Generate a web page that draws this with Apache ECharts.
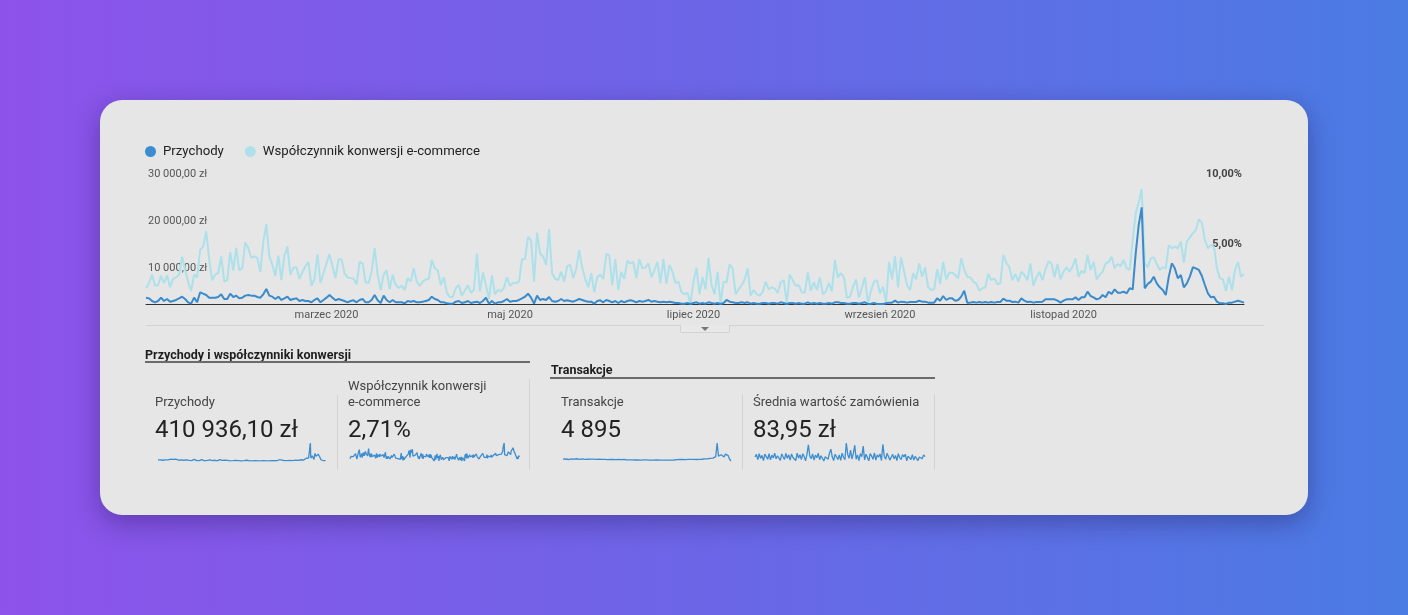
<!DOCTYPE html>
<html lang="pl">
<head>
<meta charset="utf-8">
<title>Przychody i współczynniki konwersji</title>
<script src="https://cdn.jsdelivr.net/npm/echarts@6/dist/echarts.min.js"></script>
<style>
  html, body { margin: 0; padding: 0; }
  body {
    width: 1408px; height: 615px; overflow: hidden; position: relative;
    background: linear-gradient(90deg, #8d52ea 0%, #6c66e7 50%, #4a7be3 100%);
    font-family: Roboto, 'Noto Sans', sans-serif;
  }
  .card {
    position: absolute; left: 100px; top: 100px; width: 1208px; height: 415px;
    border-radius: 22px; background: #e6e6e6;
    box-shadow: 0 8px 26px rgba(25, 15, 70, 0.35);
  }
  #chart { position: absolute; left: 0; top: 0; width: 1408px; height: 615px; z-index: 2; }
  .t { position: absolute; white-space: nowrap; z-index: 3; }
  .head { font-size: 12.5px; font-weight: bold; color: #1e1e1e; line-height: 16px; }
  .lbl { font-size: 13px; color: #444; line-height: 16px; }
  .val { font-size: 24px; color: #222; line-height: 28px; }
  .rule { position: absolute; height: 2px; background: #6b6b6b; z-index: 3; }
  .div { position: absolute; width: 1px; background: #d3d3d3; z-index: 3; }
  .sep { position: absolute; left: 146px; top: 325px; width: 1118px; height: 1px; background: #d2d2d2; z-index: 3; }
  .tab {
    position: absolute; left: 680px; top: 325px; width: 48px; height: 7px;
    border: 1px solid #d2d2d2; border-top: none; background: #e8e8e8;
    border-radius: 0 0 2px 2px; z-index: 3;
  }
  .tri {
    position: absolute; left: 701px; top: 327px; width: 0; height: 0;
    border-left: 4px solid transparent; border-right: 4px solid transparent;
    border-top: 4px solid #777; z-index: 4;
  }
</style>
</head>
<body>
<div class="card"></div>
<div class="sep"></div>
<div class="tab"></div>
<div class="tri"></div>

<div class="t head" style="left:145px; top:347px;">Przychody i współczynniki konwersji</div>
<div class="rule" style="left:145px; top:361px; width:385px;"></div>
<div class="t head" style="left:551px; top:362px;">Transakcje</div>
<div class="rule" style="left:550px; top:377px; width:385px;"></div>

<div class="div" style="left:337px; top:395px; height:75px;"></div>
<div class="div" style="left:529px; top:379px; height:91px;"></div>
<div class="div" style="left:742px; top:394px; height:76px;"></div>
<div class="div" style="left:934px; top:394px; height:76px;"></div>

<div class="t lbl" style="left:155px; top:394px;">Przychody</div>
<div class="t val" style="left:155px; top:415px;">410 936,10 zł</div>
<div class="t lbl" style="left:348px; top:378px;">Współczynnik konwersji<br>e-commerce</div>
<div class="t val" style="left:348px; top:415px;">2,71%</div>
<div class="t lbl" style="left:561px; top:394px;">Transakcje</div>
<div class="t val" style="left:561px; top:415px;">4 895</div>
<div class="t lbl" style="left:753px; top:394px;">Średnia wartość zamówienia</div>
<div class="t val" style="left:753px; top:415px;">83,95 zł</div>

<div id="chart"></div>

<script>
// dzienne wartosci 2020 (366 dni)
var przychody = [
  // sty - kwi
  1360, 1210, 640, 360, 640, 1360, 640, 1070, 500, 640,
  860, 1210, 1570, 1070, 360, 70, 1360, 360, 2500, 2210,
  1930, 1360, 1360, 1360, 1500, 2070, 1070, 1070, 2210, 1500,
  1790, 1210, 1360, 1790, 1930, 1790, 1790, 1500, 1360, 2070,
  3210, 1790, 1570, 1070, 1570, 860, 1210, 1570, 860, 1070,
  1210, 640, 860, 640, 640, 360, 860, 1210, 360, 860,
  1360, 1930, 1360, 790, 1070, 860, 640, 360, 640, 790,
  360, 860, 1070, 360, 360, 860, 1930, 790, 210, 1790,
  860, 360, 860, 360, 360, 360, 140, 640, 500, 640,
  360, 360, 500, 640, 860, 1570, 1070, 860, 360, 360,
  140, 70, 70, 500, 640, 210, 360, 640, 210, 360,
  500, 210, 640, 1360, 70, 640, 70, 360, 360, 640,
  1070, 500, 640,
  // maj - sie
  640, 860, 1210, 1570, 2210, 1360, 70, 1790, 860, 1070,
  860, 1500, 640, 500, 640, 1070, 640, 790, 640, 500,
  790, 1070, 860, 640, 500, 500, 70, 640, 790, 360,
  860, 640, 360, 640, 210, 640, 360, 640, 790, 640,
  360, 640, 500, 640, 860, 500, 640, 500, 360, 500,
  360, 500, 360, 210, 210, 70, 70, 210, 0, 210,
  360, 70, 210, 70, 360, 210, 70, 210, 0, 210,
  860, 500, 360, 210, 210, 360, 210, 360, 70, 210,
  70, 70, 210, 210, 70, 210, 210, 70, 360, 210,
  0, 210, 210, 70, 210, 70, 70, 360, 70, 210,
  70, 210, 70, 70, 210, 70, 360, 360, 210, 210,
  70, 70, 210, 210, 70, 210, 360, 0, 70, 210,
  // wrz - gru
  0, 0, 0, 140, 290, 290, 710, 290, 500, 430,
  290, 430, 430, 430, 710, 500, 500, 290, 290, 290,
  1210, 710, 1710, 860, 1210, 1210, 710, 860, 1570, 2860,
  290, 290, 430, 290, 430, 290, 430, 290, 430, 290,
  430, 430, 1140, 710, 710, 430, 500, 290, 1210, 710,
  430, 500, 290, 430, 430, 500, 1000, 1000, 1000, 1000,
  710, 290, 710, 1000, 1000, 1000, 1430, 860, 1430, 1430,
  2640, 1710, 1430, 1000, 1210, 1930, 1430, 2640, 2140, 3140,
  2430, 2430, 2640, 2290, 3360, 3140, 10860, 16930, 20710, 3360,
  4290, 4790, 5860, 4430, 3570, 3000, 1930, 5860, 8710, 7640,
  5500, 6210, 3570, 4430, 5860, 7860, 7640, 7290, 6000, 4070,
  2290, 1430, 1570, 500, 140, 140, 0, 290, 290, 500,
  710, 500, 290
];

var konwersja = [
  // sty - kwi
  1.12, 1.48, 2.1, 1.3, 1.35, 2.0, 1.5, 2.05, 1.2, 1.8,
  1.9, 2.1, 3.38, 2.43, 1.6, 0.93, 2.1, 1.9, 3.86, 4.1,
  5.2, 3.2, 1.7, 2.1, 2.2, 3.4, 1.6, 1.7, 3.7, 2.4,
  4.0, 2.4, 2.55, 4.4, 4.0, 3.3, 3.4, 3.3, 2.3, 4.45,
  5.7, 3.4, 2.8, 2.0, 3.45, 1.7, 3.45, 4.1, 2.1, 2.6,
  2.6, 1.8, 2.3, 2.7, 3.0, 1.3, 1.8, 3.55, 1.5, 2.2,
  2.9, 3.55, 2.7, 1.85, 3.2, 3.2, 2.2, 1.9, 1.85, 1.8,
  1.4, 3.0, 2.9, 1.55, 1.5, 2.3, 4.0, 2.1, 1.0, 2.1,
  2.4, 1.05, 2.1, 1.35, 1.15, 1.3, 1.0, 1.85, 1.6, 2.55,
  1.6, 1.3, 1.6, 1.75, 1.8, 3.15, 2.55, 2.4, 1.35, 1.9,
  0.8, 0.5, 0.5, 1.15, 1.35, 0.6, 0.95, 1.35, 0.8, 1.0,
  3.6, 0.9, 2.25, 1.35, 0.35, 2.05, 0.7, 1.0, 0.9, 1.15,
  1.9, 1.3, 1.5,
  // maj - sie
  1.5, 1.6, 3.2, 3.2, 4.8, 4.55, 1.6, 5.1, 3.6, 3.4,
  2.8, 5.35, 2.2, 1.8, 1.7, 2.3, 1.6, 2.7, 2.8, 1.85,
  2.5, 3.85, 2.6, 1.8, 1.2, 2.2, 0.85, 1.9, 2.1, 1.8,
  3.55, 3.5, 1.35, 3.2, 1.0, 2.3, 1.8, 3.1, 2.9, 3.0,
  1.85, 3.2, 2.55, 2.6, 2.9, 1.9, 2.4, 3.0, 1.5, 3.2,
  1.45, 2.8, 2.3, 1.5, 1.6, 0.85, 0.7, 0.8, 0.05, 1.6,
  2.6, 0.7, 1.9, 1.05, 3.3, 1.35, 0.7, 2.3, 0.05, 1.6,
  1.55, 2.85, 2.55, 0.7, 1.05, 1.35, 1.75, 2.55, 0.6, 1.0,
  0.7, 0.6, 0.85, 1.6, 1.05, 1.2, 1.1, 0.8, 1.55, 1.7,
  0.1, 2.1, 1.7, 1.3, 1.35, 0.85, 0.8, 2.25, 0.95, 1.55,
  1.0, 1.9, 0.7, 0.9, 1.5, 0.9, 3.15, 1.9, 2.2, 1.9,
  0.45, 0.5, 1.2, 1.75, 0.45, 1.2, 1.9, 0.05, 0.95, 1.6,
  // wrz - gru
  1.7, 0.76, 1.24, 0.1, 3.0, 1.76, 3.43, 1.19, 3.33, 2.3,
  1.36, 1.0, 2.2, 1.76, 2.9, 1.95, 2.62, 1.19, 1.0, 1.05,
  2.48, 1.43, 3.0, 1.76, 2.24, 2.24, 2.07, 1.83, 3.26, 2.43,
  1.95, 1.9, 1.6, 1.48, 0.95, 1.12, 1.19, 2.14, 1.7, 1.83,
  1.43, 1.48, 3.5, 2.95, 2.62, 1.7, 2.14, 1.6, 2.3, 2.07,
  1.7, 2.9, 1.29, 1.9, 2.3, 1.7, 2.48, 3.05, 2.9, 1.9,
  2.86, 1.76, 2.3, 2.62, 2.3, 2.67, 3.26, 1.95, 2.38, 2.2,
  3.5, 2.43, 3.0, 1.76, 2.07, 2.3, 2.9, 3.0, 3.38, 2.55,
  2.86, 2.71, 3.14, 2.55, 2.43, 4.57, 6.5, 7.24, 8.19, 2.9,
  2.62, 3.26, 3.33, 2.86, 2.43, 2.62, 2.55, 4.21, 3.98, 4.1,
  3.98, 4.45, 2.95, 4.45, 4.76, 5.05, 5.29, 6.05, 5.81, 4.57,
  3.98, 4.21, 4.1, 2.55, 1.83, 1.76, 0.95, 1.95, 1.0, 2.43,
  3.0, 1.95, 2.14
];

// wykresy miniatur (okresy 3-dniowe)
var transakcje = [
  62, 58, 66, 60, 55, 63, 70, 59, 64, 68, 72, 66, 60, 74, 69, 63, 58, 65, 61, 57,
  64, 70, 62, 55, 59, 66, 61, 54, 58, 63, 60, 56, 52, 61, 57, 50, 55, 59, 53, 51,
  56, 60, 52, 49, 55, 50, 47, 53, 48, 51, 46, 50, 44, 48, 45, 47, 43, 49, 45, 42,
  46, 44, 41, 45, 43, 40, 44, 42, 46, 41, 43, 45, 40, 44, 42, 47, 41, 45, 43, 46,
  44, 48, 52, 47, 55, 50, 58, 49, 53, 51, 56, 54, 59, 52, 57, 60, 55, 62, 58, 64,
  61, 66, 70, 74, 68, 78, 82, 90, 86, 95, 120, 420, 130, 105, 160, 150, 110, 175, 190, 140,
  60, 22
];
var sredniaWartosc = [
  86, 98, 74, 101, 80, 94, 70, 99, 88, 76, 102, 73, 95, 82, 104, 78, 92, 99, 71, 100,
  87, 75, 103, 80, 96, 72, 100, 84, 93, 70, 104, 81, 97, 74, 101, 88, 69, 99, 142, 90,
  78, 100, 72, 95, 83, 103, 74, 92, 98, 68, 88, 97, 76, 104, 122, 86, 70, 99, 90, 75,
  96, 71, 104, 85, 74, 150, 98, 80, 118, 77, 103, 140, 76, 95, 70, 101, 88, 136, 73, 99,
  84, 69, 102, 91, 76, 105, 72, 96, 86, 100, 70, 144, 90, 76, 103, 94, 72, 86, 98, 78,
  93, 70, 101, 84, 74, 97, 87, 99, 69, 90, 84, 75, 97, 72, 89, 80, 70, 86, 95, 78,
  96, 88
];

var nazwyMiesiecy = ['styczeń', 'luty', 'marzec', 'kwiecień', 'maj', 'czerwiec',
  'lipiec', 'sierpień', 'wrzesień', 'październik', 'listopad', 'grudzień'];
var pokazaneMiesiace = [3, 5, 7, 9, 11];

// kategorie: kolejne dni 2020
var dni = [];
for (var i = 0; i < przychody.length; i++) {
  var d = new Date(Date.UTC(2020, 0, 1 + i));
  dni.push(d.toISOString().slice(0, 10));
}

function fmtZl(v) {
  return v.toFixed(2).replace('.', ',').replace(/\B(?=(\d{3})+(?!\d))/g, ' ') + ' zł';
}
function fmtPct(v) {
  return v.toFixed(2).replace('.', ',') + '%';
}

var chart = echarts.init(document.getElementById('chart'));

var sparkPos = [
  { left: 158, width: 168 },
  { left: 350, width: 170 },
  { left: 563, width: 168 },
  { left: 755, width: 170 }
];
var sparkData = [przychody, konwersja, transakcje, sredniaWartosc];
var sparkNames = ['Przychody (mini)', 'Konwersja (mini)', 'Transakcje (mini)', 'Średnia wartość (mini)'];

var grids = [{ left: 146, width: 1098, top: 164, height: 140 }];
var xAxes = [{
  type: 'category',
  data: dni,
  boundaryGap: false,
  gridIndex: 0,
  axisLine: { lineStyle: { color: '#333', width: 1 } },
  axisTick: { show: false },
  splitLine: { show: false },
  axisLabel: {
    margin: 6,
    fontSize: 11,
    color: '#555',
    fontFamily: 'Roboto',
    interval: function (idx, val) {
      return val.slice(8) === '01' && pokazaneMiesiace.indexOf(+val.slice(5, 7)) >= 0;
    },
    formatter: function (val) {
      return nazwyMiesiecy[+val.slice(5, 7) - 1] + ' 2020';
    }
  }
}];
var yAxes = [{
  type: 'value',
  gridIndex: 0,
  position: 'left',
  min: 0,
  max: 30000,
  interval: 10000,
  axisLine: { show: false },
  axisTick: { show: false },
  splitLine: { show: false },
  axisLabel: {
    inside: true,
    showMinLabel: false,
    verticalAlign: 'top',
    margin: 2,
    padding: [5, 0, 0, 0],
    fontSize: 11,
    color: '#555',
    fontFamily: 'Roboto',
    formatter: fmtZl
  }
}, {
  type: 'value',
  gridIndex: 0,
  position: 'right',
  min: 0,
  max: 10,
  interval: 5,
  axisLine: { show: false },
  axisTick: { show: false },
  splitLine: { show: false },
  axisLabel: {
    inside: true,
    showMinLabel: false,
    verticalAlign: 'top',
    margin: 2,
    padding: [5, 0, 0, 0],
    fontSize: 11,
    fontWeight: 'bold',
    color: '#444',
    fontFamily: 'Roboto',
    formatter: fmtPct
  }
}];

var series = [{
  name: 'Współczynnik konwersji e-commerce',
  type: 'line',
  xAxisIndex: 0,
  yAxisIndex: 1,
  data: konwersja,
  showSymbol: false,
  color: '#b0e1eb',
  lineStyle: { width: 2, color: '#ace0ea' },
  z: 2
}, {
  name: 'Przychody',
  type: 'line',
  xAxisIndex: 0,
  yAxisIndex: 0,
  data: przychody,
  showSymbol: false,
  color: '#3b8dcf',
  lineStyle: { width: 2, color: '#3a8bcb' },
  z: 3
}];

sparkPos.forEach(function (p, k) {
  grids.push({ left: p.left, width: p.width, top: 443, height: 18 });
  xAxes.push({
    type: 'category',
    gridIndex: k + 1,
    boundaryGap: false,
    data: sparkData[k].map(function (v, j) { return j; }),
    show: false
  });
  yAxes.push({
    type: 'value',
    gridIndex: k + 1,
    min: 'dataMin',
    max: 'dataMax',
    show: false
  });
  series.push({
    name: sparkNames[k],
    type: 'line',
    xAxisIndex: k + 1,
    yAxisIndex: k + 2,
    data: sparkData[k],
    showSymbol: false,
    lineStyle: { width: 1.3, color: '#3d8ed0' }
  });
});

chart.setOption({
  animation: false,
  legend: {
    data: ['Przychody', 'Współczynnik konwersji e-commerce'],
    left: 145,
    top: 145,
    padding: 0,
    icon: 'circle',
    itemWidth: 11,
    itemHeight: 11,
    itemGap: 21,
    textStyle: { fontSize: 13.2, color: '#222', fontFamily: 'Roboto', padding: [0, 0, 0, 2] }
  },
  grid: grids,
  xAxis: xAxes,
  yAxis: yAxes,
  series: series
});
</script>
</body>
</html>
